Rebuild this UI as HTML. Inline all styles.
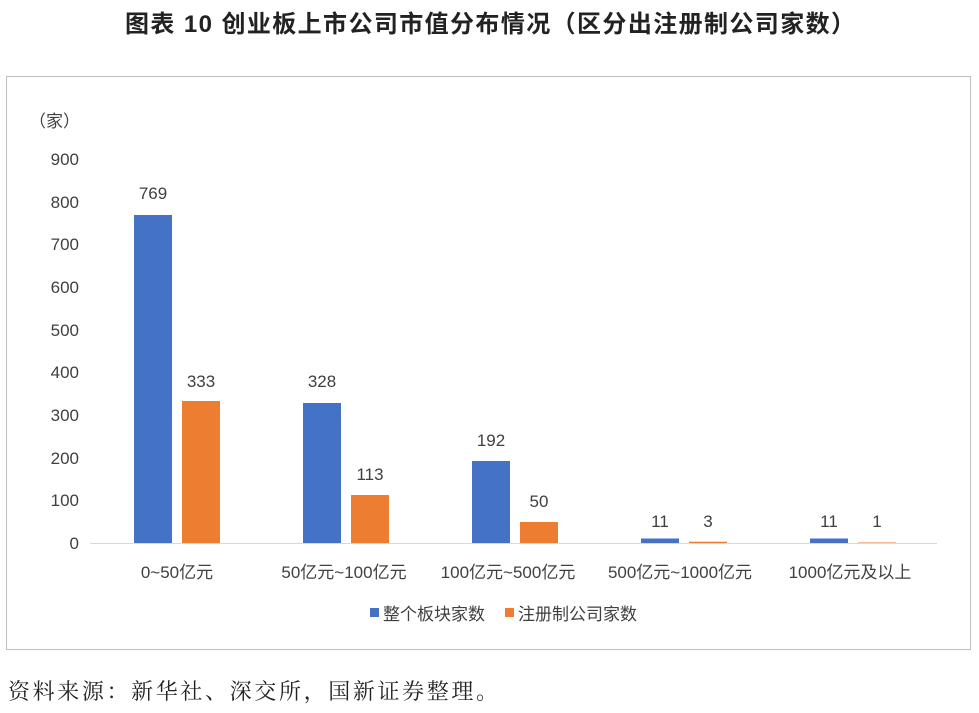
<!DOCTYPE html>
<html><head><meta charset="utf-8"><style>
body{margin:0;width:979px;height:708px;background:#fff;overflow:hidden;font-family:"Liberation Sans","Noto Sans CJK SC",sans-serif;}
</style></head><body>
<svg width="979" height="708" xmlns="http://www.w3.org/2000/svg" font-family="Liberation Sans, Noto Sans CJK SC, sans-serif">
<text x="125" y="32" font-size="24" font-weight="bold" fill="#222" textLength="730" lengthAdjust="spacing">图表 10  创业板上市公司市值分布情况（区分出注册制公司家数）</text>
<rect x="6.5" y="76.5" width="964" height="573" fill="none" stroke="#bfbfbf"/>
<g font-size="17" fill="#404040" text-anchor="end">
<text x="80" y="127">（家）</text>
<text x="79" y="165">900</text><text x="79" y="208">800</text><text x="79" y="250">700</text>
<text x="79" y="293">600</text><text x="79" y="336">500</text><text x="79" y="378">400</text>
<text x="79" y="421">300</text><text x="79" y="464">200</text><text x="79" y="506">100</text>
<text x="79" y="549">0</text>
</g>
<line x1="90" y1="543.5" x2="937" y2="543.5" stroke="#d9d9d9"/>
<g fill="#4472C4">
<rect x="134" y="215" width="38" height="328"/>
<rect x="303" y="403" width="38" height="140"/>
<rect x="472" y="461" width="38" height="82"/>
<rect x="641" y="538.5" width="38" height="4.5"/>
<rect x="810" y="538.5" width="38" height="4.5"/>
</g>
<g fill="#ED7D31">
<rect x="182" y="401" width="38" height="142"/>
<rect x="351" y="495" width="38" height="48"/>
<rect x="520" y="522" width="38" height="21"/>
<rect x="689" y="541.7" width="38" height="1.3"/>
<rect x="858" y="542.5" width="38" height="0.5"/>
</g>
<g font-size="17" fill="#404040" text-anchor="middle">
<text x="153" y="199">769</text><text x="201" y="387">333</text>
<text x="322" y="387">328</text><text x="370" y="480">113</text>
<text x="491" y="446">192</text><text x="539" y="507">50</text>
<text x="660" y="527">11</text><text x="708" y="527">3</text>
<text x="829" y="527">11</text><text x="877" y="527">1</text>
<text x="177" y="578">0~50亿元</text>
<text x="344" y="578">50亿元~100亿元</text>
<text x="508" y="578">100亿元~500亿元</text>
<text x="680" y="578">500亿元~1000亿元</text>
<text x="850" y="578">1000亿元及以上</text>
</g>
<rect x="370" y="608" width="9" height="9" fill="#4472C4"/>
<text x="383" y="620" font-size="17" fill="#404040">整个板块家数</text>
<rect x="505" y="608" width="9" height="9" fill="#ED7D31"/>
<text x="518" y="620" font-size="17" fill="#404040">注册制公司家数</text>
<text x="8" y="699" font-size="22" fill="#222" textLength="490" lengthAdjust="spacing" font-family="Liberation Serif, Noto Serif CJK SC, serif">资料来源：新华社、深交所，国新证券整理。</text>
</svg>
</body></html>
